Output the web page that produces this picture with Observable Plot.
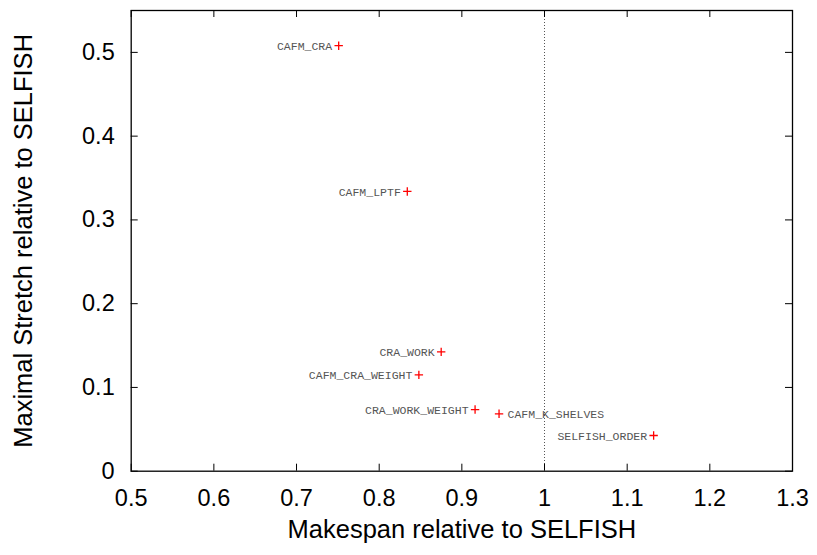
<!DOCTYPE html>
<html>
<head>
<meta charset="utf-8">
<script src="https://cdn.jsdelivr.net/npm/d3@7"></script>
<script src="https://cdn.jsdelivr.net/npm/@observablehq/plot@0.6"></script>
<style>
  html, body { margin: 0; padding: 0; background: #fff; }
  #chart { width: 817px; height: 555px; }
</style>
</head>
<body>
<div id="chart"></div>
<script>
// Data
const names = ["CAFM_CRA", "CAFM_LPTF", "CRA_WORK", "CAFM_CRA_WEIGHT", "CRA_WORK_WEIGHT", "CAFM_K_SHELVES", "SELFISH_ORDER"];
const makespan = [0.751, 0.834, 0.875, 0.848, 0.916, 0.945, 1.132];
const stretch = [0.508, 0.334, 0.1425, 0.115, 0.0736, 0.0685, 0.0426];
const labelSide = ["left", "left", "left", "left", "left", "right", "left"];

const xTicks = [0.5, 0.6, 0.7, 0.8, 0.9, 1, 1.1, 1.2, 1.3];
const xTickLabels = ["0.5", "0.6", "0.7", "0.8", "0.9", "1", "1.1", "1.2", "1.3"];
const yTicks = [0, 0.1, 0.2, 0.3, 0.4, 0.5];
const yTickLabels = ["0", "0.1", "0.2", "0.3", "0.4", "0.5"];
const refLine = [1];

const xTitle = "Makespan relative to SELFISH";
const yTitle = "Maximal Stretch relative to SELFISH";

const points = names.map((n, i) => ({name: n, x: makespan[i], y: stretch[i], side: labelSide[i]}));
const xFmt = new Map(xTicks.map((t, i) => [t, xTickLabels[i]]));
const yFmt = new Map(yTicks.map((t, i) => [t, yTickLabels[i]]));

const W = 817, H = 555;
const mL = 130.7, mR = 25, mT = 10, mB = 84.3;
const innerH = H - mT - mB;
const innerW = W - mL - mR;
const tickLen = 7;

const plus = {
  draw(ctx, size) {
    const r = Math.sqrt(size / Math.PI);
    ctx.moveTo(-r, 0); ctx.lineTo(r, 0);
    ctx.moveTo(0, -r); ctx.lineTo(0, r);
  }
};

const monoFont = "'Courier New', 'Liberation Mono', 'DejaVu Sans Mono', monospace";

const chart = Plot.plot({
  width: W,
  height: H,
  marginLeft: mL,
  marginRight: mR,
  marginTop: mT,
  marginBottom: mB,
  style: {fontFamily: "'Liberation Sans', Arial, sans-serif", fontSize: "23.5px", color: "#000", background: "#fff"},
  x: {domain: [0.5, 1.3]},
  y: {domain: [0, 0.55]},
  marks: [
    Plot.ruleX(refLine, {stroke: "#555", strokeWidth: 1, strokeDasharray: "1,2"}),
    // inward ticks: bottom & top
    Plot.tickX(xTicks, {x: d => d, insetTop: innerH - tickLen, stroke: "#000", strokeWidth: 1}),
    Plot.tickX(xTicks, {x: d => d, insetBottom: innerH - tickLen, stroke: "#000", strokeWidth: 1}),
    // inward ticks: left & right
    Plot.tickY(yTicks, {y: d => d, insetRight: innerW - tickLen, stroke: "#000", strokeWidth: 1}),
    Plot.tickY(yTicks, {y: d => d, insetLeft: innerW - tickLen, stroke: "#000", strokeWidth: 1}),
    Plot.axisX(xTicks, {anchor: "bottom", tickSize: 0, tickPadding: 18, tickFormat: d => xFmt.get(d), label: null, fontSize: 23.5}),
    Plot.axisY(yTicks, {anchor: "left", tickSize: 0, tickPadding: 16.5, tickFormat: d => yFmt.get(d), label: null, fontSize: 23.5}),
    Plot.frame({stroke: "#000", strokeWidth: 1.3}),
    Plot.dot(points, {x: "x", y: "y", symbol: plus, r: 4.2, stroke: "#ff0000", strokeWidth: 1.3, fill: "none"}),
    Plot.text(points.filter(d => d.side === "left"), {x: "x", y: "y", text: "name", textAnchor: "end", dx: -6.5, dy: 0.5, lineAnchor: "middle", fontFamily: monoFont, fontSize: 11.5, fill: "#555"}),
    Plot.text(points.filter(d => d.side === "right"), {x: "x", y: "y", text: "name", textAnchor: "start", dx: 8.5, dy: 0.5, lineAnchor: "middle", fontFamily: monoFont, fontSize: 11.5, fill: "#555"}),
    Plot.text([xTitle], {frameAnchor: "bottom", text: d => d, textAnchor: "middle", dy: 67, lineAnchor: "bottom", fontSize: 25.5, fill: "#000"}),
    Plot.text([yTitle], {frameAnchor: "left", text: d => d, textAnchor: "middle", dx: -99, rotate: -90, lineAnchor: "bottom", fontSize: 25.5, fill: "#000"})
  ]
});
document.getElementById("chart").appendChild(chart);
</script>
</body>
</html>
